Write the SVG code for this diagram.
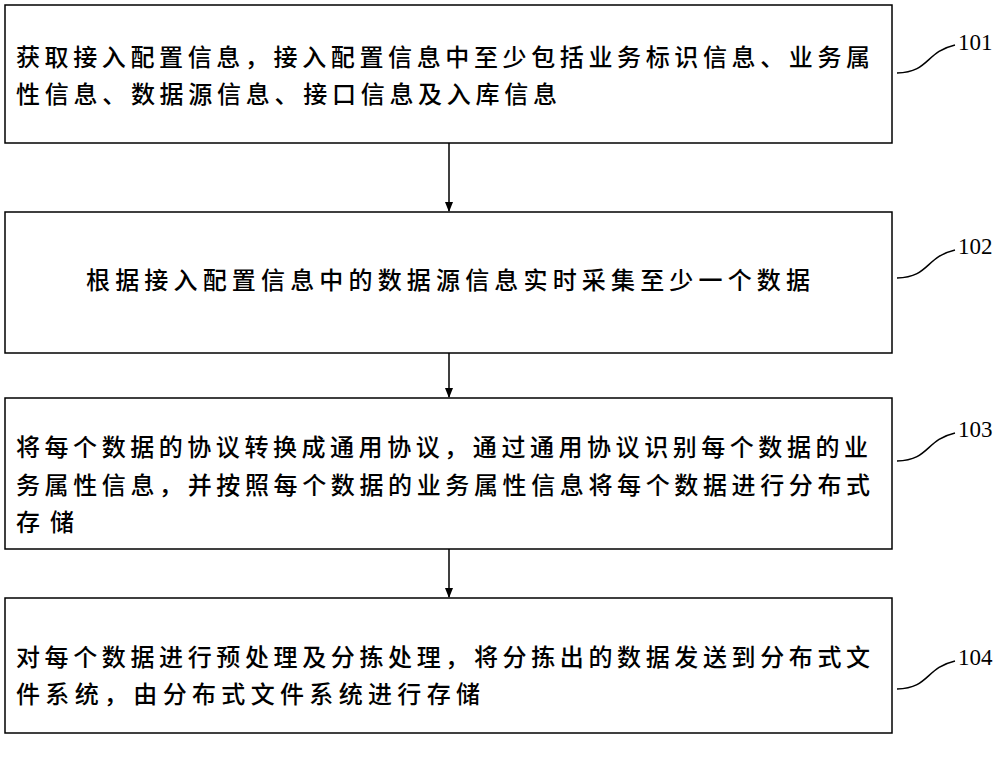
<svg xmlns="http://www.w3.org/2000/svg" width="1000" height="762" viewBox="0 0 1000 762">
<style>
.b{fill:#fff;stroke:#000;stroke-width:1.5}
.t{font-family:"Noto Sans CJK SC","Liberation Serif",sans-serif;font-size:24px;fill:#000;font-weight:500}
.n{font-family:"Liberation Serif",serif;font-size:23px;fill:#000}
.c{fill:none;stroke:#000;stroke-width:1.5}
</style>
<defs><marker id="a" markerWidth="10" markerHeight="10" refX="9" refY="5" orient="auto" markerUnits="userSpaceOnUse"><path d="M0,1L10,5L0,9z"/></marker></defs>
<rect width="1000" height="762" fill="#fff"/>
<g id="n101"><rect class="b" x="5" y="5" width="887" height="138"/>
<text class="t" x="16" y="66" textLength="854" lengthAdjust="spacing">获取接入配置信息，接入配置信息中至少包括业务标识信息、业务属</text>
<text class="t" x="16" y="103" textLength="541" lengthAdjust="spacing">性信息、数据源信息、接口信息及入库信息</text>
<text class="n" x="958" y="50">101</text><path class="c" d="M897,73 C930,72 925,52 955,45"/></g>
<g id="n102"><rect class="b" x="5" y="212" width="887" height="141"/>
<text class="t" x="86" y="289" textLength="724" lengthAdjust="spacing">根据接入配置信息中的数据源信息实时采集至少一个数据</text>
<text class="n" x="958" y="254">102</text><path class="c" d="M897,278 C930,277 925,257 955,250"/></g>
<g id="n103"><rect class="b" x="5" y="398" width="887" height="151"/>
<text class="t" x="16" y="456" textLength="852" lengthAdjust="spacing">将每个数据的协议转换成通用协议，通过通用协议识别每个数据的业</text>
<text class="t" x="16" y="494" textLength="854" lengthAdjust="spacing">务属性信息，并按照每个数据的业务属性信息将每个数据进行分布式</text>
<text class="t" x="16" y="531" textLength="58" lengthAdjust="spacing">存储</text>
<text class="n" x="958" y="437">103</text><path class="c" d="M897,461 C930,460 925,440 955,433"/></g>
<g id="n104"><rect class="b" x="5" y="598" width="887" height="135"/>
<text class="t" x="16" y="666" textLength="854" lengthAdjust="spacing">对每个数据进行预处理及分拣处理，将分拣出的数据发送到分布式文</text>
<text class="t" x="16" y="703" textLength="464" lengthAdjust="spacing">件系统，由分布式文件系统进行存储</text>
<text class="n" x="958" y="665">104</text><path class="c" d="M897,689 C930,688 925,668 955,661"/></g>
<g id="connectors">
<line class="c" x1="449" y1="143" x2="449" y2="211" marker-end="url(#a)"/>
<line class="c" x1="449" y1="353" x2="449" y2="397" marker-end="url(#a)"/>
<line class="c" x1="449" y1="549" x2="449" y2="597" marker-end="url(#a)"/>
</g>
</svg>
